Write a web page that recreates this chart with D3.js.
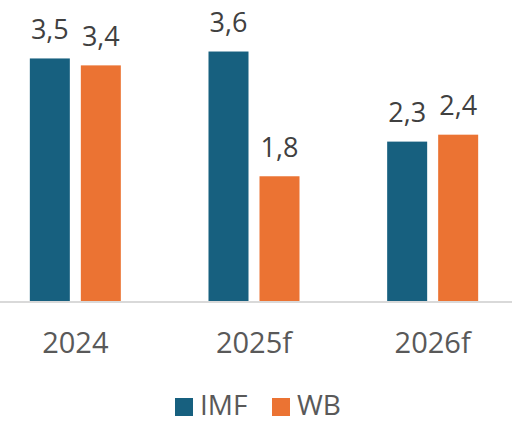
<!DOCTYPE html>
<html>
<head>
<meta charset="utf-8">
<script src="https://cdn.jsdelivr.net/npm/d3@7"></script>
<style>
  body { margin: 0; background: #fff; }
  text { font-family: "Open Sans", "Noto Sans", sans-serif; }
</style>
</head>
<body>
<div id="chart"></div>
<script>
// data
var categories = ["2024", "2025f", "2026f"];
var seriesNames = ["IMF", "WB"];
var imfValues = [3.5, 3.6, 2.3];
var wbValues = [3.4, 1.8, 2.4];

var colors = { IMF: "#17607f", WB: "#eb7333" };

var svgWidth = 512;
var svgHeight = 427;
var baseY = 301;

var svg = d3.select("#chart")
  .append("svg")
  .attr("width", svgWidth)
  .attr("height", svgHeight);

// scales
var x0 = d3.scaleBand()
  .domain(categories)
  .range([-14, 522]);

var x1 = d3.scaleBand()
  .domain(seriesNames)
  .range([x0.bandwidth() / 2 - 45.5, x0.bandwidth() / 2 + 45.5])
  .paddingInner(0.2157);

var y = d3.scaleLinear()
  .domain([0, 3.6])
  .range([baseY, baseY - 3.6 * 69.3]);

var rows = categories.map(function(c, i) {
  return { cat: c, values: [
    { key: "IMF", value: imfValues[i] },
    { key: "WB", value: wbValues[i] }
  ]};
});

var groups = svg.selectAll(".grp")
  .data(rows)
  .enter()
  .append("g")
  .attr("transform", d => `translate(${x0(d.cat)},0)`);

groups.selectAll("rect")
  .data(d => d.values)
  .enter()
  .append("rect")
  .attr("x", d => x1(d.key))
  .attr("y", d => y(d.value))
  .attr("width", x1.bandwidth())
  .attr("height", d => baseY - y(d.value))
  .attr("fill", d => colors[d.key]);

// value labels
groups.selectAll(".val")
  .data(d => d.values)
  .enter()
  .append("text")
  .attr("x", d => x1(d.key) + x1.bandwidth() / 2)
  .attr("y", d => y(d.value) - 19.5)
  .attr("text-anchor", "middle")
  .attr("font-size", "27px")
  .attr("fill", "#404040")
  .text(d => d3.format(".1f")(d.value).replace(".", ","));

// baseline
svg.append("line")
  .attr("x1", 0)
  .attr("x2", svgWidth)
  .attr("y1", baseY + 1)
  .attr("y2", baseY + 1)
  .attr("stroke", "#d9d9d9")
  .attr("stroke-width", 2);

// category axis
var xAxis = d3.axisBottom(x0).tickSize(0).tickPadding(0);
var axisG = svg.append("g")
  .attr("transform", `translate(0, ${baseY})`)
  .call(xAxis);
axisG.select(".domain").remove();
axisG.selectAll("text")
  .attr("dy", null)
  .attr("y", 52)
  .attr("font-size", "29px")
  .attr("font-family", "'Open Sans', 'Noto Sans', sans-serif")
  .attr("fill", "#595959");

// legend
var legend = svg.append("g");
var legendX = [175, 272];
seriesNames.forEach(function(s, i) {
  legend.append("rect")
    .attr("x", legendX[i])
    .attr("y", 398)
    .attr("width", 18)
    .attr("height", 18)
    .attr("fill", colors[s]);
  legend.append("text")
    .attr("x", legendX[i] + 25)
    .attr("y", 415)
    .attr("font-size", "28px")
    .attr("fill", "#595959")
    .text(s);
});
</script>
</body>
</html>
